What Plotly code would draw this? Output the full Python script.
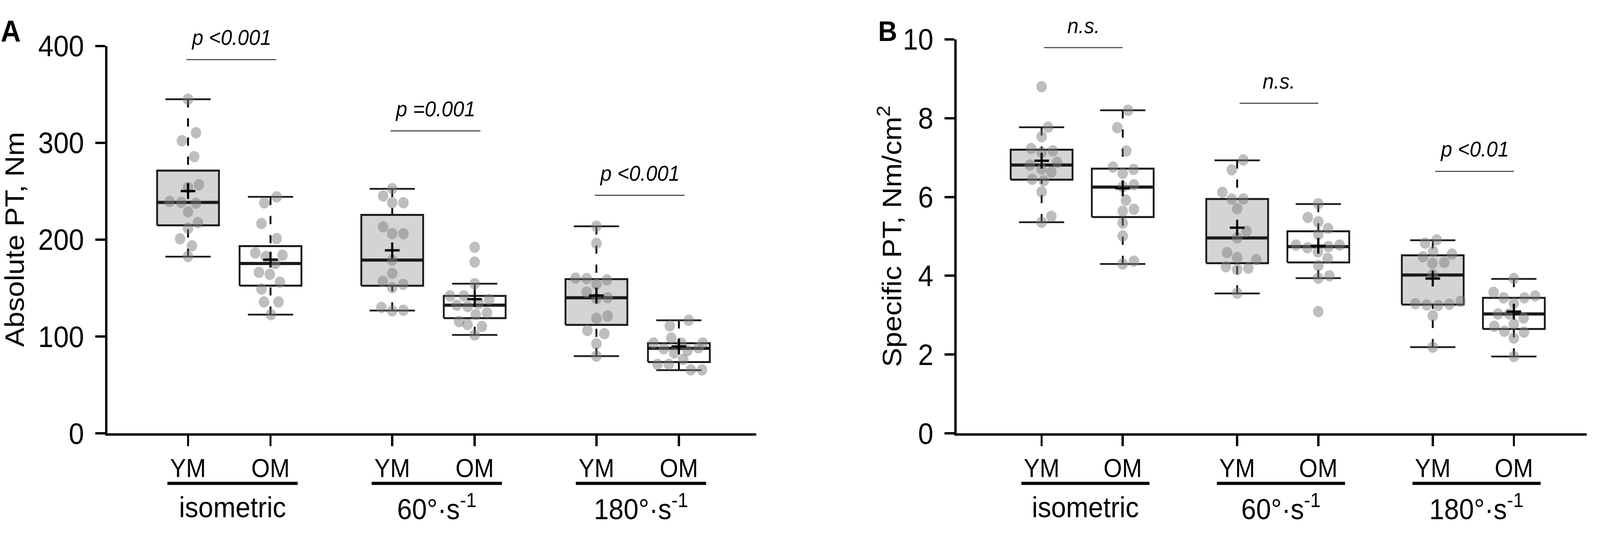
import plotly.graph_objects as go

FONT = "Liberation Sans, Arial, Helvetica, sans-serif"
W, H = 4424, 1391

groups = ["isometric", "60°·s<sup>-1</sup>", "180°·s<sup>-1</sup>"]
ages = ["YM", "OM"]

# ---- panel A: absolute PT, Nm ----
a_ym_iso = [344.9, 310.4, 302.1, 285.7, 256.7, 253.9, 239.4, 238.5, 237.5, 228.9, 217.6, 211.7, 200.9, 193.6, 182.6]
a_om_iso = [244.2, 237.9, 216.7, 201.2, 186.2, 183.9, 182.6, 175.4, 166.2, 164.2, 156.1, 149.1, 135.7, 135.7, 122.6]
a_ym_60 = [252.6, 245.1, 238.1, 238.1, 213.2, 206.2, 206.2, 178.9, 165.2, 157.0, 150.5, 153.9, 130.0, 126.5, 127.1]
a_om_60 = [192.1, 176.9, 154.5, 141.9, 141.9, 138.1, 132.4, 130.9, 134.1, 122.7, 124.6, 115.4, 112.4, 110.4, 101.6]
a_ym_180 = [213.9, 196.1, 160.3, 159.9, 158.4, 154.0, 145.7, 139.1, 140.0, 118.7, 121.2, 106.3, 102.9, 92.5, 79.8]
a_om_180 = [116.7, 111.0, 98.4, 93.3, 93.1, 93.3, 87.4, 85.5, 88.3, 83.0, 76.3, 71.3, 71.3, 65.6, 65.6]

# horizontal spread of the dots (px in the original figure)
a_jit_ym_iso = [0, 22, -17, 17, 30, 0, -51, -19, 22, 0, 27, 0, -22, 11, 0]
a_jit_om_iso = [17, -17, -25, 17, -42, 33, -13, 13, -32, -2, 26, -25, -18, 22, 1]
a_jit_ym_60 = [0, -25, 0, 31, -25, 0, 31, 0, 0, -26, 0, 30, -30, 0, 31]
a_jit_om_60 = [0, 0, 0, -68, -30, 40, -50, -19, 11, 3, 34, -43, -20, 20, 0]
a_jit_ym_180 = [0, 0, -58, -27, 29, 0, -27, 0, 31, 0, 31, -25, 22, 0, 0]
a_jit_om_180 = [27, -25, -21, -70, 7, 66, -42, 24, 54, -13, 12, -59, -28, 33, 64]

# box statistics in the order YM iso, OM iso, YM 60, OM 60, YM 180, OM 180
a_q1 = [214.8, 152.5, 152.4, 119.0, 112.0, 73.6]
a_med = [238.4, 175.4, 178.9, 132.4, 140.0, 87.8]
a_q3 = [271.3, 193.3, 225.5, 141.9, 159.3, 93.1]
a_lo = [182.4, 122.6, 126.8, 101.6, 79.8, 65.3]
a_hi = [344.9, 244.2, 252.4, 154.5, 213.8, 116.7]
a_mean = [250.1, 179.3, 189.0, 138.5, 142.3, 89.7]

a_p_text = ["p &lt;0.001", "p =0.001", "p &lt;0.001"]
a_p_level = [385.8, 312.3, 245.8]

# ---- panel B: specific PT, Nm/cm2 ----
b_ym_iso = [8.80, 7.77, 7.53, 7.23, 7.13, 7.17, 6.81, 6.71, 6.88, 6.63, 6.45, 6.41, 6.13, 5.51, 5.36]
b_om_iso = [8.20, 7.76, 7.17, 6.76, 6.70, 6.60, 6.31, 6.26, 5.92, 5.69, 5.64, 5.34, 5.01, 4.37, 4.30]
b_ym_60 = [6.94, 6.69, 6.12, 5.95, 5.95, 5.70, 5.13, 4.96, 4.59, 4.46, 4.41, 4.23, 4.16, 4.19, 3.56]
b_om_60 = [5.83, 5.48, 5.37, 5.20, 5.05, 4.78, 4.71, 4.74, 4.78, 4.61, 4.44, 4.26, 4.00, 3.94, 3.09]
b_ym_180 = [4.91, 4.83, 4.62, 4.55, 4.48, 4.32, 4.34, 4.03, 3.29, 3.26, 3.25, 3.28, 3.35, 2.99, 2.19]
b_om_180 = [3.93, 3.58, 3.44, 3.44, 3.49, 3.30, 3.03, 3.03, 2.93, 2.72, 2.77, 2.59, 2.57, 2.42, 1.95]

b_jit_ym_iso = [0, 18, 0, -29, 0, 31, -33, 0, 43, 27, -26, 6, 0, 27, 0]
b_jit_om_iso = [15, -15, 10, -27, 30, 0, 31, 0, 9, 31, 0, 0, 0, 31, 0]
b_jit_ym_60 = [17, -15, -41, -15, 17, 0, 26, 0, -28, 0, 53, -31, 0, 31, 0]
b_jit_om_60 = [0, -29, 0, 27, 0, -62, -30, 28, 59, -1, 26, 0, 31, 0, 0]
b_jit_ym_180 = [11, -21, 1, 53, -27, -1, 32, 0, -48, -17, 15, 46, 77, 0, 0]
b_jit_om_180 = [0, -56, -28, 29, 59, 0, -44, -13, 27, -54, 0, -26, 28, 0, 0]

b_q1 = [6.44, 5.49, 4.32, 4.34, 3.27, 2.65]
b_med = [6.81, 6.25, 4.96, 4.74, 4.02, 3.03]
b_q3 = [7.20, 6.72, 5.95, 5.13, 4.52, 3.44]
b_lo = [5.36, 4.30, 3.55, 3.94, 2.19, 1.95]
b_hi = [7.77, 8.20, 6.93, 5.82, 4.90, 3.92]
b_mean = [6.92, 6.22, 5.22, 4.76, 3.93, 3.09]

b_p_text = ["n.s.", "n.s.", "p &lt;0.01"]
b_p_level = [9.79, 8.38, 6.65]

BOX_LINE = "#1a1a1a"
FILLS = ["#d4d4d4", "#ffffff"]
DOT = "rgba(125,125,125,0.5)"


def px_y(p):
    return 1 - p / H


fig = go.Figure()


def add_panel(xa, ya, unit_px, gap, points, jits, q1, med, q3, lo, hi, mean,
              p_text, p_level, p_off):
    centers = [1 + g * (1 + gap) + k for g in range(3) for k in (0, 1)]
    hw = 85.5 / unit_px
    cw = 62.5 / unit_px
    kw = dict(xaxis=xa, yaxis=ya, showlegend=False, hoverinfo="skip")
    for i, c in enumerate(centers):
        # box body
        fig.add_trace(go.Scatter(
            x=[c - hw, c + hw, c + hw, c - hw, c - hw],
            y=[q1[i], q1[i], q3[i], q3[i], q1[i]],
            mode="lines", fill="toself", fillcolor=FILLS[i % 2],
            line=dict(color=BOX_LINE, width=5), **kw))
        # whiskers, dashed from the cap towards the box
        for end, edge in ((hi[i], q3[i]), (lo[i], q1[i])):
            fig.add_trace(go.Scatter(
                x=[c, c], y=[end, edge], mode="lines",
                line=dict(color="black", width=5, dash="21px,28px"), **kw))
            fig.add_trace(go.Scatter(
                x=[c - cw, c + cw], y=[end, end], mode="lines",
                line=dict(color=BOX_LINE, width=4.5), **kw))
        # median
        fig.add_trace(go.Scatter(
            x=[c - hw, c + hw], y=[med[i], med[i]], mode="lines",
            line=dict(color=BOX_LINE, width=8), **kw))
        # individual values
        fig.add_trace(go.Scatter(
            x=[c + j / unit_px for j in jits[i]], y=points[i], mode="markers",
            marker=dict(size=29, color=DOT, line=dict(width=0)), **kw))
        # mean
        fig.add_trace(go.Scatter(
            x=[c], y=[mean[i]], mode="markers",
            marker=dict(symbol="cross-thin", size=29,
                        line=dict(color="black", width=6)), **kw))

    for g in range(3):
        c_ym, c_om = centers[2 * g], centers[2 * g + 1]
        # significance line + label
        x0, x1 = c_ym + p_off[0], c_om + p_off[1]
        fig.add_shape(type="line", xref=xa, yref=ya,
                      x0=x0, x1=x1, y0=p_level[g], y1=p_level[g],
                      line=dict(color="#333333", width=2.5))
        fig.add_annotation(xref=xa, yref=ya, x=(x0 + x1) / 2,
                           y=p_level[g], yshift=57, showarrow=False,
                           xanchor="center", yanchor="middle",
                           text="<i>" + p_text[g] + "</i>",
                           font=dict(size=56, color="black", family=FONT))
        # group underline + label
        u0, u1 = c_ym - 0.25, c_om + 0.33
        fig.add_shape(type="line", xref=xa, yref="paper",
                      x0=u0, x1=u1, y0=px_y(1274), y1=px_y(1274),
                      line=dict(color="black", width=8))
        fig.add_annotation(xref=xa, yref="paper", x=(u0 + u1) / 2,
                           y=px_y(1339), xanchor="center", yanchor="middle",
                           showarrow=False, text=groups[g],
                           font=dict(size=74, color="black", family=FONT))
    return centers


cA = add_panel("x", "y", 228.0, 1.476,
               [a_ym_iso, a_om_iso, a_ym_60, a_om_60, a_ym_180, a_om_180],
               [a_jit_ym_iso, a_jit_om_iso, a_jit_ym_60, a_jit_om_60, a_jit_ym_180, a_jit_om_180],
               a_q1, a_med, a_q3, a_lo, a_hi, a_mean, a_p_text, a_p_level, (-0.02, 0.07))
cB = add_panel("x2", "y2", 224.3, 1.411,
               [b_ym_iso, b_om_iso, b_ym_60, b_om_60, b_ym_180, b_om_180],
               [b_jit_ym_iso, b_jit_om_iso, b_jit_ym_60, b_jit_om_60, b_jit_ym_180, b_jit_om_180],
               b_q1, b_med, b_q3, b_lo, b_hi, b_mean, b_p_text, b_p_level, (0.03, 0.0))

xcommon = dict(showline=True, linecolor="black", linewidth=6, ticks="outside",
               ticklen=27, tickwidth=6, tickcolor="black", showgrid=False,
               zeroline=False, ticklabelstandoff=0,
               tickfont=dict(size=66, color="black", family=FONT),
               ticktext=ages * 3)
ycommon = dict(showline=True, linecolor="black", linewidth=6, ticks="outside",
               ticklen=27, tickwidth=6, tickcolor="black", showgrid=False,
               zeroline=False, ticklabelstandoff=16,
               tickfont=dict(size=76, color="black", family=FONT))

fig.update_layout(
    width=W, height=H, margin=dict(l=0, r=0, t=0, b=0),
    paper_bgcolor="white", plot_bgcolor="white",
    xaxis=dict(domain=[296.7 / W, 2091 / W], range=[0.021, 7.89],
               tickvals=cA, anchor="y", **xcommon),
    yaxis=dict(domain=[px_y(1137.7), px_y(80.5)], range=[0, 400],
               tickvals=[0, 100, 200, 300, 400], anchor="x", **ycommon),
    xaxis2=dict(domain=[2645 / W, 4387 / W], range=[-0.048, 7.719],
                tickvals=cB, anchor="y2", **xcommon),
    yaxis2=dict(domain=[px_y(1137.7), px_y(62.7)], range=[0, 10],
                tickvals=[0, 2, 4, 6, 8, 10], anchor="x2", **ycommon),
)

# axis titles and panel letters
fig.add_annotation(xref="paper", yref="paper", x=41 / W, y=px_y(609),
                   xanchor="center", yanchor="middle",
                   textangle=-90, showarrow=False, text="Absolute PT, Nm",
                   font=dict(size=74, color="black", family=FONT))
fig.add_annotation(xref="paper", yref="paper", x=2461 / W, y=px_y(600),
                   xanchor="center", yanchor="middle",
                   textangle=-90, showarrow=False,
                   text="Specific PT, Nm/cm<sup>2</sup>",
                   font=dict(size=74, color="black", family=FONT))
fig.add_annotation(xref="paper", yref="paper", x=0, y=px_y(40),
                   xanchor="left", yanchor="middle", showarrow=False, text="<b>A</b>",
                   font=dict(size=77, color="black", family=FONT))
fig.add_annotation(xref="paper", yref="paper", x=2426 / W, y=px_y(40),
                   xanchor="left", yanchor="middle", showarrow=False, text="<b>B</b>",
                   font=dict(size=73, color="black", family=FONT))

# the browser may give a viewport narrower than the figure: stretch the
# fixed-size figure so it exactly fills the window, with no page margin
fit = """
var gd = document.getElementById('{plot_id}');
document.documentElement.style.overflow = 'hidden';
document.body.style.margin = '0';
document.body.style.overflow = 'hidden';
var sx = window.innerWidth / %d, sy = window.innerHeight / %d;
gd.style.transformOrigin = '0 0';
gd.style.transform = 'scale(' + sx + ',' + sy + ')';
""" % (W, H)

fig.write_html("out.html", post_script=fit, config={"displayModeBar": False})
